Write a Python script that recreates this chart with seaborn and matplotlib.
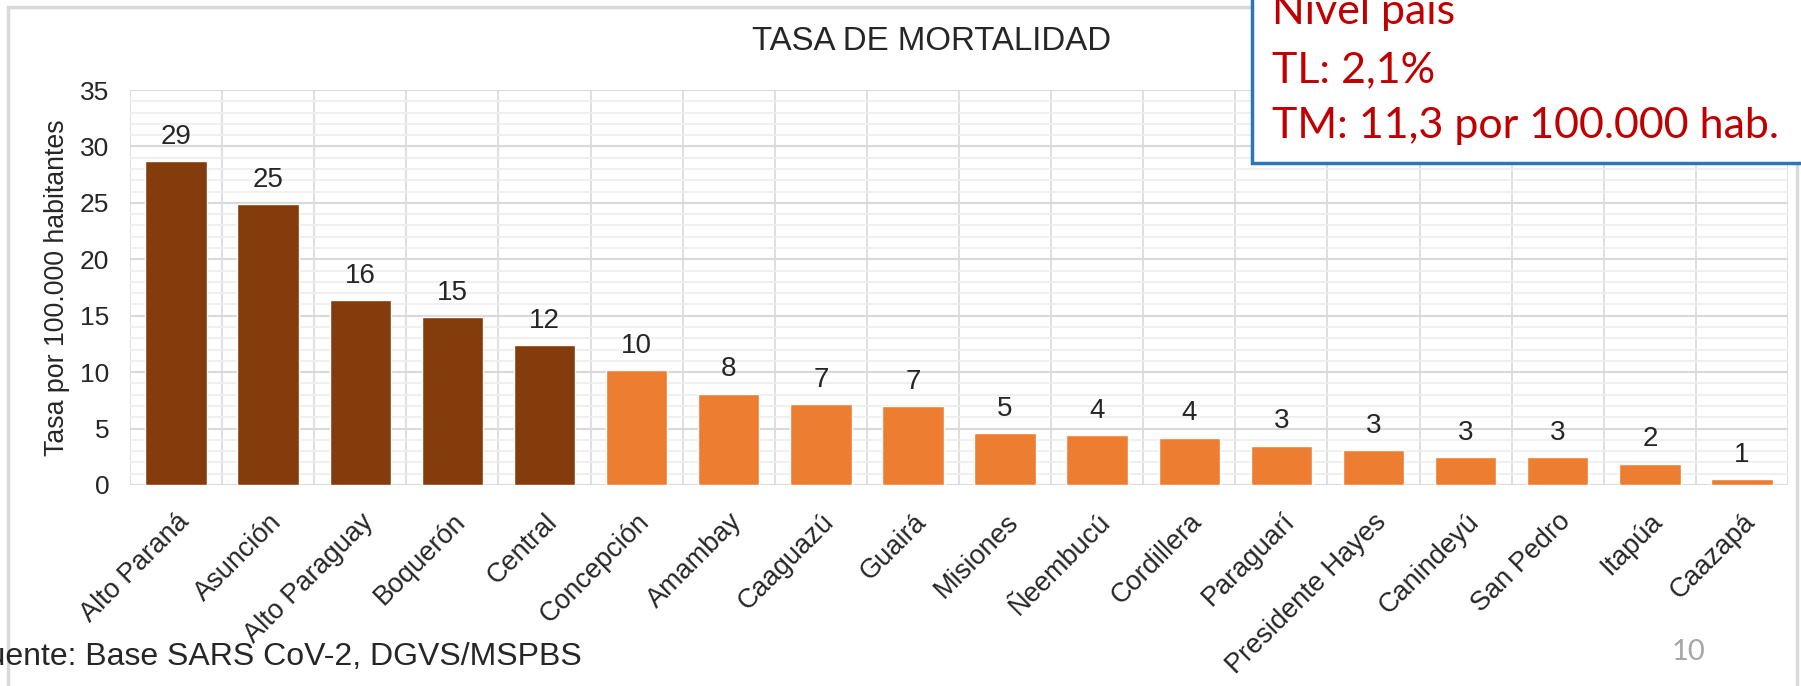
import matplotlib
matplotlib.use("Agg")
import matplotlib.pyplot as plt
import matplotlib.patches as mpatches
import seaborn as sns
import numpy as np

# Tasa de mortalidad por departamento (por 100.000 hab.)
departamentos = ["Alto Paraná", "Asunción", "Alto Paraguay", "Boquerón", "Central",
                 "Concepción", "Amambay", "Caaguazú", "Guairá", "Misiones", "Ñeembucú",
                 "Cordillera", "Paraguarí", "Presidente Hayes", "Canindeyú", "San Pedro",
                 "Itapúa", "Caazapá"]
tasas = [28.7, 24.9, 16.4, 14.9, 12.4, 10.2, 8.1, 7.2, 7.0, 4.6, 4.4, 4.2, 3.5, 3.1,
         2.5, 2.5, 1.9, 0.5]
etiquetas = ["29", "25", "16", "15", "12", "10", "8", "7", "7", "5", "4", "4", "3", "3",
             "3", "3", "2", "1"]
grupo = ["alta"] * 5 + ["baja"] * 13

COLORES = {"alta": "#843C0C", "baja": "#ED7D31"}

sns.set_style("white")
plt.rcParams["font.family"] = ["Liberation Sans", "DejaVu Sans"]

fig = plt.figure(figsize=(18.01, 6.86), dpi=100)
ax = fig.add_axes([130 / 1801, 1 - 485 / 686, (1788 - 130) / 1801, (485 - 90) / 686])

paleta = [COLORES[g] for g in grupo]
sns.barplot(x=departamentos, y=tasas, hue=departamentos, palette=paleta, legend=False,
            width=0.667, dodge=False, saturation=1, ax=ax, zorder=3)

ax.set_ylim(0, 35)
ax.set_xlim(-0.5, len(departamentos) - 0.5)
ax.set_yticks(range(0, 36, 5))
ax.set_yticks(range(0, 36), minor=True)
ax.set_xticks(np.arange(-0.5, len(departamentos)), minor=True)
ax.grid(which="minor", axis="y", color="#EEEEEE", lw=1.2, zorder=0)
ax.grid(which="major", axis="y", color="#D9D9D9", lw=1.5, zorder=1)
ax.grid(which="minor", axis="x", color="#D9D9D9", lw=1.2, zorder=1)
ax.grid(which="major", axis="x", visible=False)
for s in ax.spines.values():
    s.set_visible(False)
ax.tick_params(which="both", length=0)
ax.tick_params(axis="y", labelsize=19, pad=15)
ax.set_xticks(range(len(departamentos)))
ax.set_xticklabels(departamentos, rotation=45, ha="right", va="top",
                   rotation_mode="anchor", fontsize=19.5)
ax.tick_params(axis="x", pad=17)

for i, (v, t) in enumerate(zip(tasas, etiquetas)):
    ax.annotate(t, (i, v), xytext=(0, 8), textcoords="offset points",
                ha="center", va="bottom", fontsize=20)

ax.set_ylabel("Tasa por 100.000 habitantes", fontsize=19.3, labelpad=7)
ax.set_xlabel("")
fig.text(932 / 1801, 1 - 41 / 686, "TASA DE MORTALIDAD", ha="center", va="center",
         fontsize=23.8)

# marco del grafico
fig.patches.append(mpatches.Rectangle((8 / 1801, -0.1), (1797 - 8) / 1801, 1.1 - 7 / 686,
                                      transform=fig.transFigure, fill=False,
                                      edgecolor="#D9D9D9", lw=2.5))

# recuadro nivel pais
fig.patches.append(mpatches.Rectangle((1252 / 1801, 1 - 163 / 686), 0.5, 0.5,
                                      transform=fig.transFigure, facecolor="white",
                                      edgecolor="#2E75B6", lw=2.5, zorder=5))
for y, txt in [(24, "Nivel país"), (82, "TL: 2,1%"), (138, "TM: 11,3 por 100.000 hab.")]:
    fig.text(1272 / 1801, 1 - y / 686, txt, ha="left", va="baseline", color="#C00000",
             fontsize=31, family=["Lato", "DejaVu Sans"], zorder=6)

fig.text(582 / 1801, 1 - 665 / 686, "Fuente: Base SARS CoV-2, DGVS/MSPBS", ha="right",
         va="baseline", fontsize=23)
fig.text(1688 / 1801, 1 - 652 / 686, "10", ha="center", va="center", color="#A6A6A6",
         fontsize=21, family=["Lato", "DejaVu Sans"])

fig.savefig("out.png", dpi=100)
